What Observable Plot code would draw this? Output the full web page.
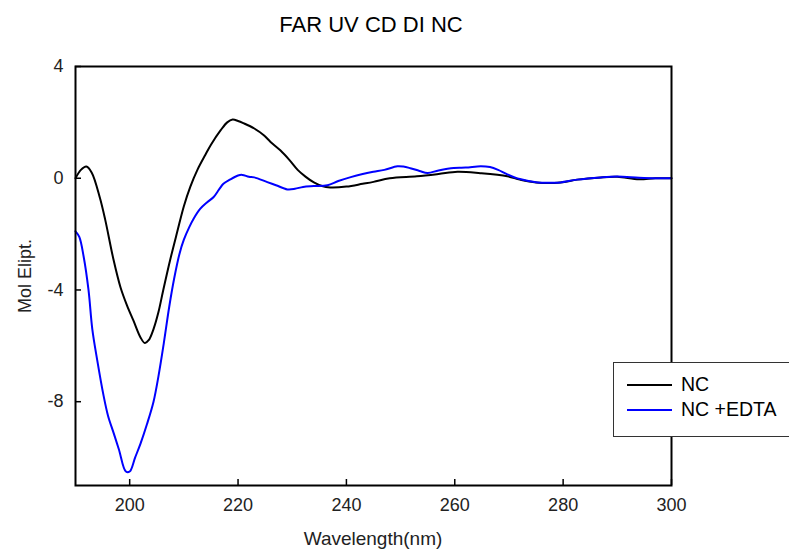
<!DOCTYPE html>
<html>
<head>
<meta charset="utf-8">
<script src="https://cdn.jsdelivr.net/npm/d3@7"></script>
<script src="https://cdn.jsdelivr.net/npm/@observablehq/plot@0.6"></script>
<style>
  html, body { margin: 0; padding: 0; background: #fff; }
  #wrap { position: relative; width: 789px; height: 552px; overflow: hidden; font-family: "Liberation Sans", Arial, sans-serif; color: #000; }
  #title { position: absolute; left: 0; width: 742px; top: 12px; text-align: center; font-size: 22px; }
  #xlabel { position: absolute; left: 75px; width: 596px; top: 528px; text-align: center; font-size: 19px; color: #222; }
  #ylabel { position: absolute; left: 25px; top: 276px; transform: translate(-50%, -50%) rotate(-90deg); font-size: 18px; white-space: nowrap; color: #222; }
  #legend { position: absolute; left: 613px; top: 362px; width: 180px; height: 75px; border: 1px solid #333; box-sizing: border-box; background: #fff; font-size: 19.5px; }
  .item { position: absolute; left: 13px; display: flex; align-items: center; }
  .swatch { width: 45px; height: 2px; margin-right: 9px; }
  #chart { position: absolute; left: 0; top: 0; }
</style>
</head>
<body>
<div id="wrap">
  <div id="chart"></div>
  <div id="title">FAR UV CD DI NC</div>
  <div id="xlabel">Wavelength(nm)</div>
  <div id="ylabel">Mol Elipt.</div>
  <div id="legend"></div>
</div>
<script>
// Series names
const seriesNames = ["NC", "NC +EDTA"];
const seriesColors = ["#000000", "#0000ff"];

// NC (black)
const ncWavelength = [190, 191, 192, 193, 194.5, 195.5, 197, 198.3, 199.5, 200.7, 202, 202.8, 203.5, 204.4, 205.3, 206.2, 207.5, 208.8, 210, 211.2, 212.5, 214, 215, 216.8, 218, 219, 220, 221, 223, 224.7, 226, 227.8, 229.5, 231, 232.5, 234, 235.5, 237, 240, 243, 245, 248, 253, 257, 260.5, 264.7, 269.7, 272, 275, 279.5, 282.6, 287, 290, 294, 297, 300];
const ncValues = [0.0, 0.3, 0.42, 0.2, -0.7, -1.5, -2.9, -3.9, -4.55, -5.1, -5.7, -5.9, -5.8, -5.4, -4.8, -4.0, -2.9, -1.9, -1.0, -0.3, 0.3, 0.85, 1.2, 1.72, 2.0, 2.1, 2.05, 1.97, 1.78, 1.55, 1.3, 1.0, 0.65, 0.3, 0.05, -0.15, -0.28, -0.33, -0.3, -0.2, -0.13, 0.0, 0.07, 0.15, 0.23, 0.18, 0.07, -0.05, -0.15, -0.15, -0.05, 0.03, 0.05, -0.04, 0.0, 0.0];

// NC + EDTA (blue)
const edtaWavelength = [190, 190.7, 191.5, 192.4, 193.1, 194, 195.2, 196, 197, 198, 199.3, 200, 201, 202, 203.2, 204.4, 205.3, 206.3, 207.3, 208.2, 209.2, 210, 211, 211.8, 213, 214.3, 215.5, 216.5, 217.3, 218.5, 220, 220.8, 222, 223, 225.4, 227, 229.1, 230.5, 232, 234, 236.5, 238.5, 240.8, 243, 245, 247, 249.4, 250.5, 251.8, 253.5, 255, 257, 259.8, 262, 264.8, 266.5, 268, 269.7, 272, 275.3, 278, 279.5, 282.6, 286.9, 290, 294, 297, 300];
const edtaValues = [-1.9, -2.1, -2.8, -4.0, -5.4, -6.5, -7.8, -8.5, -9.1, -9.7, -10.5, -10.5, -10.0, -9.5, -8.8, -8.0, -7.1, -5.9, -4.6, -3.6, -2.7, -2.2, -1.75, -1.45, -1.1, -0.86, -0.67, -0.4, -0.2, -0.05, 0.1, 0.12, 0.05, 0.03, -0.14, -0.25, -0.4, -0.38, -0.31, -0.28, -0.25, -0.1, 0.04, 0.15, 0.23, 0.3, 0.43, 0.42, 0.36, 0.26, 0.19, 0.28, 0.37, 0.38, 0.43, 0.4, 0.3, 0.14, -0.03, -0.15, -0.16, -0.15, -0.05, 0.03, 0.06, 0.02, 0.0, 0.0];

// Axes
const xDomain = [190, 300];
const yDomain = [-11, 4];
const xTicks = [200, 220, 240, 260, 280, 300];
const yTicks = [4, 0, -4, -8];

const ncData = ncWavelength.map((w, i) => ({w, v: ncValues[i]}));
const edtaData = edtaWavelength.map((w, i) => ({w, v: edtaValues[i]}));

const W = 789, H = 552;
const mL = 75, mR = 118, mT = 66, mB = 67;
const plotW = W - mL - mR, plotH = H - mT - mB;

const chart = Plot.plot({
  width: W,
  height: H,
  marginLeft: mL,
  marginRight: mR,
  marginTop: mT,
  marginBottom: mB,
  style: {fontFamily: "'Liberation Sans', Arial, sans-serif", fontSize: "18px", color: "#000", background: "#fff"},
  x: {domain: xDomain},
  y: {domain: yDomain},
  marks: [
    Plot.axisX({ticks: xTicks, tickSize: 0, tickPadding: 13, tickFormat: d => String(d), label: null, fontSize: 18, fill: "#222"}),
    Plot.axisY({ticks: yTicks, tickSize: 0, tickPadding: 12, tickFormat: d => String(d), label: null, fontSize: 18, fill: "#222"}),
    Plot.tickX(xTicks, {x: d => d, insetTop: plotH - 6, stroke: "#000", strokeWidth: 1.5}),
    Plot.tickY(yTicks, {y: d => d, insetRight: plotW - 6, stroke: "#000", strokeWidth: 1.5}),
    Plot.line(ncData, {x: "w", y: "v", stroke: seriesColors[0], strokeWidth: 2, curve: "catmull-rom"}),
    Plot.line(edtaData, {x: "w", y: "v", stroke: seriesColors[1], strokeWidth: 2, curve: "catmull-rom"}),
    Plot.frame({stroke: "#000", strokeWidth: 2})
  ]
});
document.getElementById("chart").appendChild(chart);

const legend = document.getElementById("legend");
seriesNames.forEach((name, i) => {
  const item = document.createElement("div");
  item.className = "item";
  item.style.top = (i === 0 ? 10 : 35) + "px";
  const sw = document.createElement("div");
  sw.className = "swatch";
  sw.style.background = seriesColors[i];
  const label = document.createElement("span");
  label.textContent = name;
  item.appendChild(sw);
  item.appendChild(label);
  legend.appendChild(item);
});
</script>
</body>
</html>
